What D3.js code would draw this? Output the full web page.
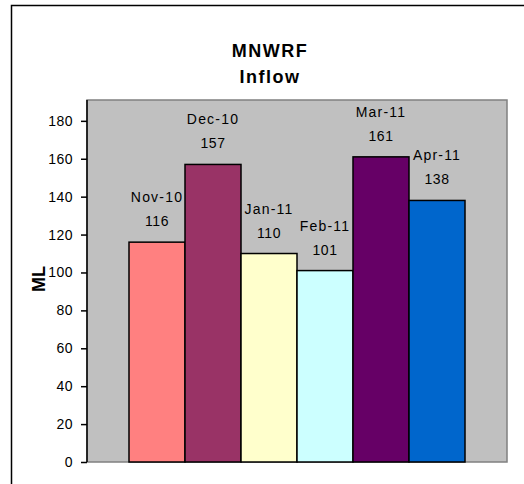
<!DOCTYPE html>
<html>
<head>
<meta charset="utf-8">
<script src="https://cdn.jsdelivr.net/npm/d3@7"></script>
<style>
  body { margin: 0; background: #fff; }
  text { font-family: Arial, "Liberation Sans", sans-serif; }
</style>
</head>
<body>
<script>
// chart data
var months = ["Nov-10", "Dec-10", "Jan-11", "Feb-11", "Mar-11", "Apr-11"];
var inflow = [116, 157, 110, 101, 161, 138];
var barColors = ["#ff8080", "#993366", "#ffffcc", "#ccffff", "#660066", "#0066cc"];
var yTicks = [0, 20, 40, 60, 80, 100, 120, 140, 160, 180];

var width = 524, height = 484;
var plot = { left: 87, top: 100, right: 507, bottom: 462 };

var svg = d3.select("body").append("svg")
    .attr("width", width)
    .attr("height", height);

// outer chart border (left and top show)
svg.append("path")
    .attr("d", "M11.5," + height + " V5.5 H" + width)
    .attr("fill", "none")
    .attr("stroke", "#000")
    .attr("stroke-width", 1.5);

// plot area
svg.append("rect")
    .attr("x", plot.left)
    .attr("y", plot.top)
    .attr("width", plot.right - plot.left)
    .attr("height", plot.bottom - plot.top)
    .attr("fill", "#c0c0c0")
    .attr("stroke", "#808080")
    .attr("stroke-width", 1.5);

var y = d3.scaleLinear()
    .domain([0, 191])
    .range([plot.bottom, plot.top]);

var gap = 42;
var x = d3.scaleBand()
    .domain(months)
    .range([plot.left + gap, plot.right - gap])
    .padding(0);

// bars
svg.selectAll("rect.bar")
    .data(months)
    .enter().append("rect")
    .attr("class", "bar")
    .attr("x", function (d) { return x(d); })
    .attr("width", x.bandwidth())
    .attr("y", function (d, i) { return y(inflow[i]); })
    .attr("height", function (d, i) { return y(0) - y(inflow[i]); })
    .attr("fill", function (d, i) { return barColors[i]; })
    .attr("stroke", "#000")
    .attr("stroke-width", 1.5);

// labels above bars
var lab = svg.selectAll("g.lab")
    .data(months)
    .enter().append("g")
    .attr("class", "lab")
    .attr("transform", function (d, i) {
        return "translate(" + (x(d) + x.bandwidth() / 2) + "," + y(inflow[i]) + ")";
    });

lab.append("text")
    .attr("y", -40)
    .attr("text-anchor", "middle")
    .style("font-size", "14px")
    .style("letter-spacing", "1.2px")
    .attr("fill", "#000")
    .text(function (d) { return d; });

lab.append("text")
    .attr("y", -16)
    .attr("text-anchor", "middle")
    .style("font-size", "14px")
    .style("letter-spacing", "0.5px")
    .attr("fill", "#000")
    .text(function (d, i) { return inflow[i]; });

// y axis
var yAxis = d3.axisLeft(y)
    .tickValues(yTicks)
    .tickSize(6)
    .tickPadding(8);

var ax = svg.append("g")
    .attr("transform", "translate(" + plot.left + ",0)")
    .call(yAxis);

ax.select(".domain")
    .attr("d", "M0," + plot.top + " V" + plot.bottom)
    .attr("stroke", "#000")
    .attr("stroke-width", 1.5);
ax.selectAll(".tick line").attr("stroke", "#000").attr("stroke-width", 1.5);
ax.selectAll(".tick text")
    .style("font-size", "14px")
    .style("letter-spacing", "0.5px")
    .style("font-family", "Arial, 'Liberation Sans', sans-serif")
    .attr("fill", "#000");

// y axis title
svg.append("text")
    .attr("transform", "translate(45,279) rotate(-90)")
    .attr("text-anchor", "middle")
    .style("font-size", "18px")
    .style("font-weight", "bold")
    .text("ML");

// chart title
svg.append("text")
    .attr("x", 270)
    .attr("y", 57)
    .attr("text-anchor", "middle")
    .style("font-size", "18px")
    .style("font-weight", "bold")
    .style("letter-spacing", "1.5px")
    .text("MNWRF");

svg.append("text")
    .attr("x", 270)
    .attr("y", 83)
    .attr("text-anchor", "middle")
    .style("font-size", "18px")
    .style("font-weight", "bold")
    .style("letter-spacing", "1.5px")
    .text("Inflow");
</script>
</body>
</html>
